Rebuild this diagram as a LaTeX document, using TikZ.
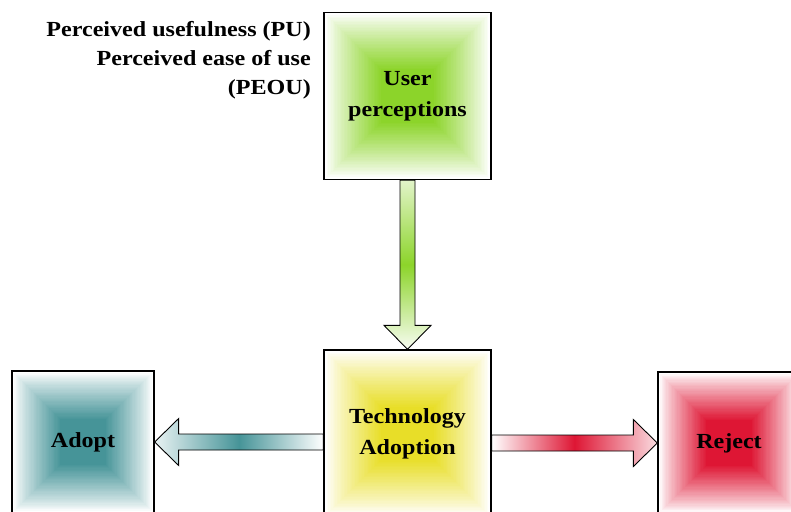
\documentclass[tikz,border=0pt]{standalone}
\usepackage{fontspec}
\setmainfont{Liberation Serif}[FakeStretch=1.12]
\usetikzlibrary{calc}
\definecolor{usergreen}{RGB}{140,212,42}
\definecolor{techyellow}{RGB}{232,222,40}
\definecolor{adoptteal}{RGB}{70,148,152}
\definecolor{rejectred}{RGB}{222,22,52}
\tikzset{
  gradbox/.style 2 args={
    draw=black, line width=1.3pt, inner sep=0pt, align=center,
    minimum width=#2pt, minimum height=#2pt,
    font=\bfseries\fontsize{21.5}{31}\selectfont,
    path picture={
      \foreach \i in {0,...,40}{
        \pgfmathsetmacro\s{0.34*#2*\i/40}
        \pgfmathsetmacro\t{max(0.001,(\i-1)/39)}
        \pgfmathtruncatemacro\p{min(100,max(0,100*\t^0.85))}
        \fill[#1!\p!white] ([shift={(\s pt,\s pt)}]path picture bounding box.south west)
          rectangle ([shift={(-\s pt,-\s pt)}]path picture bounding box.north east);
      }
    }
  },
  blockarrow/.style={draw=black, line width=0.9pt, line join=miter},
  sidelabel/.style={align=right, font=\bfseries\fontsize{21.5}{29}\selectfont, inner sep=0pt}
}
\begin{document}
\begin{tikzpicture}[x=1pt,y=-1pt]
\path[use as bounding box] (0,0) rectangle (791,511);
\clip (0,0) rectangle (791,511);
\fill[white] (0,0) rectangle (791,511);

\node[gradbox={usergreen}{167}] (up) at (407.5,96) {User\\perceptions};
\node[gradbox={techyellow}{167}] (ta) at (407.5,433.5) {Technology\\Adoption};
\node[gradbox={adoptteal}{142}] (ad) at (83,442) {Adopt};
\node[gradbox={rejectred}{142}] (rj) at (729,443) {Reject};

\node[sidelabel, anchor=east] (lbl) at (311,60) {Perceived usefulness (PU)\\Perceived ease of use\\(PEOU)};

% down arrow
\path[blockarrow, top color=usergreen!25!white, bottom color=usergreen!6!white, middle color=usergreen]
  ([xshift=-7.5pt]up.south) -- ([xshift=-7.5pt,yshift=24pt]ta.north)
  -- ([xshift=-23.5pt,yshift=24pt]ta.north) -- (ta.north)
  -- ([xshift=23.5pt,yshift=24pt]ta.north) -- ([xshift=7.5pt,yshift=24pt]ta.north)
  -- ([xshift=7.5pt]up.south) -- cycle;

% left arrow
\coordinate (ls) at (ta.west |- ad.east);
\coordinate (lt) at (ad.east);
\path[blockarrow, left color=adoptteal!12!white, right color=white, middle color=adoptteal]
  ([yshift=8pt]ls) -- ([xshift=24pt,yshift=8pt]lt)
  -- ([xshift=24pt,yshift=23.5pt]lt) -- (lt)
  -- ([xshift=24pt,yshift=-23.5pt]lt) -- ([xshift=24pt,yshift=-8pt]lt)
  -- ([yshift=-8pt]ls) -- cycle;

% right arrow
\coordinate (rs) at (ta.east |- rj.west);
\coordinate (rt) at (rj.west);
\path[blockarrow, left color=white, right color=rejectred!15!white, middle color=rejectred]
  ([yshift=8pt]rs) -- ([xshift=-24pt,yshift=8pt]rt)
  -- ([xshift=-24pt,yshift=23.5pt]rt) -- (rt)
  -- ([xshift=-24pt,yshift=-23.5pt]rt) -- ([xshift=-24pt,yshift=-8pt]rt)
  -- ([yshift=-8pt]rs) -- cycle;
\end{tikzpicture}
\end{document}
